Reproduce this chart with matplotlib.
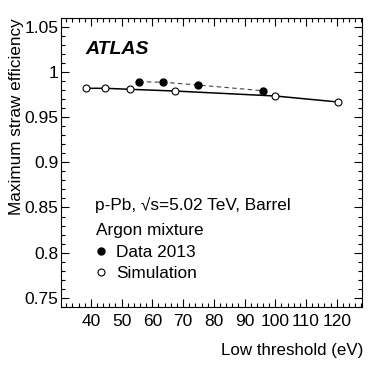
import matplotlib
matplotlib.use("Agg")
import matplotlib.pyplot as plt
from matplotlib.lines import Line2D
from matplotlib.ticker import MultipleLocator

# Low threshold scan, Argon mixture, p-Pb barrel
data_thr = [55.7, 63.6, 74.8, 95.9]
data_eff = [0.9890, 0.9884, 0.9854, 0.9790]
sim_thr = [38.5, 44.7, 52.7, 67.3, 100.0, 120.3]
sim_eff = [0.9817, 0.9817, 0.9806, 0.9787, 0.9732, 0.9666]

plt.rcParams['font.family'] = ['Liberation Sans', 'DejaVu Sans']

fig = plt.figure(figsize=(3.82, 3.67), dpi=100)
ax = fig.add_axes([61/382, 1-307/367, 301/382, 289/367])

# simulation: open circles, solid line
ax.plot(sim_thr, sim_eff, color='black', lw=1.1, marker='o', ms=5,
        mfc='white', mec='black', mew=0.8, zorder=3)
# data: filled circles, dashed line
ax.plot(data_thr, data_eff, color='#444444', lw=0.8, ls=(0, (4, 3)),
        marker='o', ms=5, mfc='black', mec='black', zorder=4)

ax.set_xlim(30.3, 128.2)
ax.set_ylim(0.740, 1.0594)
ax.xaxis.set_major_locator(MultipleLocator(10))
ax.xaxis.set_minor_locator(MultipleLocator(2))
ax.yaxis.set_major_locator(MultipleLocator(0.05))
ax.yaxis.set_minor_locator(MultipleLocator(0.01))
ax.set_yticks([0.75, 0.8, 0.85, 0.9, 0.95, 1.0, 1.05])
ax.set_yticklabels(['0.75', '0.8', '0.85', '0.9', '0.95', '1', '1.05'])
ax.set_xticks(range(40, 121, 10))

ax.tick_params(which='both', direction='in', top=True, right=True, width=0.8)
ax.tick_params(which='major', length=6, labelsize=12.5)
ax.tick_params(which='minor', length=3)
ax.tick_params(axis='x', pad=5)
ax.tick_params(axis='y', pad=2)
for s in ax.spines.values():
    s.set_linewidth(0.8)

fig.text(17/382, 1-18/367, 'Maximum straw efficiency', rotation=90,
         ha='center', va='top', fontsize=12.3)
fig.text(363/382, 1-350/367, 'Low threshold (eV)', ha='right', va='center',
         fontsize=12.2)

ax.text(0.080, 0.875, 'ATLAS', transform=ax.transAxes, fontsize=14,
        fontweight='bold', style='italic', va='baseline')
ax.text(0.113, 0.336, 'p-Pb, \u221as=5.02 TeV, Barrel', transform=ax.transAxes,
        fontsize=12.4, va='baseline')
ax.text(0.115, 0.249, 'Argon mixture', transform=ax.transAxes,
        fontsize=12.4, va='baseline')

handles = [Line2D([], [], ls='none', marker='o', ms=5, mfc='black', mec='black'),
           Line2D([], [], ls='none', marker='o', ms=5, mfc='white', mec='black', mew=0.8)]
ax.legend(handles, ['Data 2013', 'Simulation'], loc='upper left',
          bbox_to_anchor=(0.1096, 0.213), frameon=False, fontsize=12.4,
          borderpad=0, borderaxespad=0, handlelength=0.8, handletextpad=0.5,
          labelspacing=0.32)

fig.savefig('out.png', dpi=100)
